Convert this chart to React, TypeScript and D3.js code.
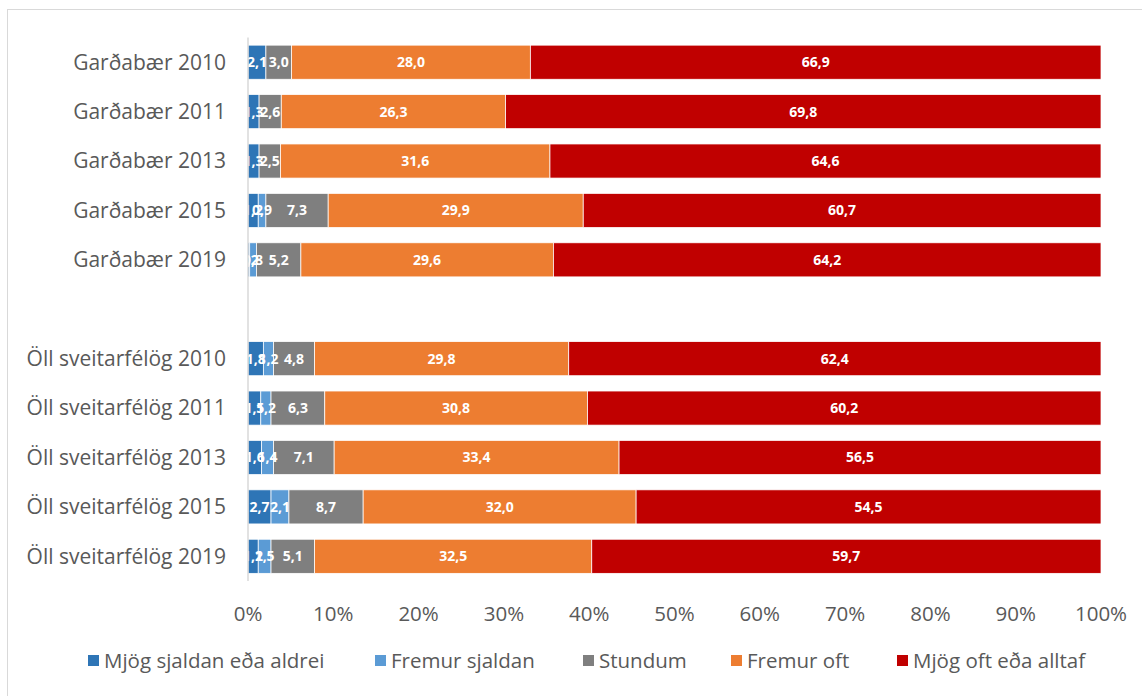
import React, { useEffect } from 'react';
import * as d3 from 'd3';

const categories = [
  'Garðabær 2010',
  'Garðabær 2011',
  'Garðabær 2013',
  'Garðabær 2015',
  'Garðabær 2019',
  '',
  'Öll sveitarfélög 2010',
  'Öll sveitarfélög 2011',
  'Öll sveitarfélög 2013',
  'Öll sveitarfélög 2015',
  'Öll sveitarfélög 2019',
];

const seriesNames = ['Mjög sjaldan eða aldrei', 'Fremur sjaldan', 'Stundum', 'Fremur oft', 'Mjög oft eða alltaf'];
const seriesColors = ['#2E75B6', '#5B9BD5', '#7F7F7F', '#ED7D31', '#C00000'];

const mjogSjaldan = [2.1, 1.3, 1.3, 1.2, 0.2, null, 1.8, 1.5, 1.6, 2.7, 1.2];
const fremurSjaldan = [0, 0, 0, 0.9, 0.8, null, 1.2, 1.2, 1.4, 2.1, 1.5];
const stundum = [3.0, 2.6, 2.5, 7.3, 5.2, null, 4.8, 6.3, 7.1, 8.7, 5.1];
const fremurOft = [28.0, 26.3, 31.6, 29.9, 29.6, null, 29.8, 30.8, 33.4, 32.0, 32.5];
const mjogOft = [66.9, 69.8, 64.6, 60.7, 64.2, null, 62.4, 60.2, 56.5, 54.5, 59.7];

const xTicks = [0, 10, 20, 30, 40, 50, 60, 70, 80, 90, 100];

const FONT = '"Open Sans", Calibri, sans-serif';

export default function App() {
  useEffect(() => {
    document.body.style.margin = '0';
  }, []);

  const width = 1142;
  const height = 696;
  const x = d3.scaleLinear().domain([0, 100]).range([248, 1101]);
  const y = d3
    .scaleBand<string>()
    .domain(categories.map((c, i) => String(i)))
    .range([37.5, 581])
    .paddingInner(0.31)
    .paddingOuter(0.155);

  // stacked segments, one list per row
  const segs = categories.flatMap((c, i) => {
    const vals = [mjogSjaldan[i], fremurSjaldan[i], stundum[i], fremurOft[i], mjogOft[i]];
    if (vals[0] == null) return [];
    let acc = 0;
    return vals.map((v, j) => {
      const val = v as number;
      const s = { row: String(i), j, val, x0: x(acc), x1: x(acc + val) };
      acc += val;
      return s;
    }).filter((s) => s.val > 0);
  });

  const legendX = [88, 375, 583, 731, 897];
  const fmt = (v: number) => v.toFixed(1).replace('.', ',');
  const bh = y.bandwidth();

  return (
    <svg width={width} height={height} style={{ display: 'block', fontFamily: FONT }}>
      <rect x={0} y={0} width={width} height={height} fill="#fff" />
      <rect x={7.5} y={9.5} width={1160} height={720} fill="none" stroke="#d9d9d9" strokeWidth={1} />
      <g>
        {segs.map((s) => (
          <rect
            key={s.row + '-' + s.j}
            x={s.x0}
            y={y(s.row)}
            width={s.x1 - s.x0}
            height={bh}
            fill={seriesColors[s.j]}
            stroke="#fff"
            strokeWidth={0.75}
          />
        ))}
      </g>
      <g>
        {segs.map((s) => (
          <text
            key={s.row + '-' + s.j}
            x={(s.x0 + s.x1) / 2}
            y={y(s.row)! + bh / 2}
            dy="0.35em"
            textAnchor="middle"
            fill="#fff"
            fontWeight="bold"
            fontSize={14}
          >
            {fmt(s.val)}
          </text>
        ))}
      </g>
      {categories.map((c, i) =>
        c ? (
          <text key={c} x={226} y={y(String(i))! + bh / 2} dy="0.35em" textAnchor="end" fill="#595959" fontSize={21}>
            {c}
          </text>
        ) : null
      )}
      <line x1={x(0)} x2={x(0)} y1={37.5} y2={581} stroke="#d9d9d9" strokeWidth={1.5} />
      {xTicks.map((t) => (
        <text key={t} x={x(t)} y={614} dy="0.35em" textAnchor="middle" fill="#595959" fontSize={20.5}>
          {t}%
        </text>
      ))}
      {seriesNames.map((s, i) => (
        <g key={s} transform={`translate(${legendX[i]},661)`}>
          <rect x={0} y={-6} width={11} height={11} fill={seriesColors[i]} />
          <text x={16} y={0} dy="0.35em" fill="#595959" fontSize={20.5}>
            {s}
          </text>
        </g>
      ))}
    </svg>
  );
}
